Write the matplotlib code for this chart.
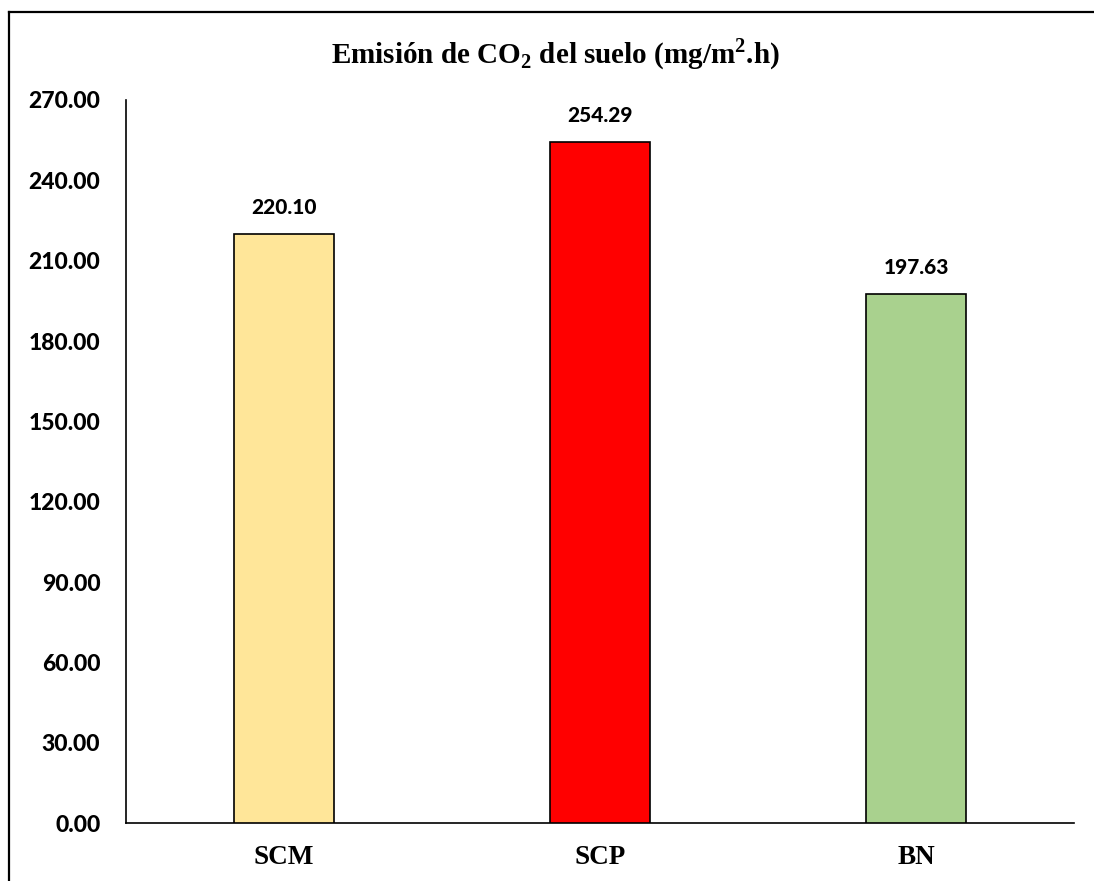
import matplotlib
matplotlib.use("Agg")
import matplotlib.pyplot as plt
from matplotlib.lines import Line2D

plt.rcParams["mathtext.fontset"] = "custom"
plt.rcParams["mathtext.rm"] = "Liberation Serif:bold"
plt.rcParams["mathtext.bf"] = "Liberation Serif:bold"

categories = ["SCM", "SCP", "BN"]
values = [220.10, 254.29, 197.63]
colors = ["#FFE699", "#FF0000", "#A9D18E"]
yticks = [0, 30, 60, 90, 120, 150, 180, 210, 240, 270]

fig = plt.figure(figsize=(10.94, 8.81), dpi=100)
ax = fig.add_axes([0.1152, 0.0658, 0.8665, 0.8207])

x = list(range(len(categories)))
ax.bar(x, values, width=0.316, color=colors, edgecolor="black", linewidth=1.2, zorder=3)

ax.set_xlim(-0.5, len(categories) - 0.5)
ax.set_ylim(0, 270)
ax.set_yticks(yticks)
ax.set_yticklabels([f"{v:.2f}" for v in yticks], fontfamily="Lato", fontweight=900, fontsize=16.5)
ax.set_xticks(x)
ax.set_xticklabels(categories, fontfamily="Liberation Serif", fontweight="bold", fontsize=19.5)
ax.tick_params(axis="y", length=0, pad=18.5)
ax.tick_params(axis="x", length=0, pad=16)

for side in ("top", "right"):
    ax.spines[side].set_visible(False)
for side in ("left", "bottom"):
    ax.spines[side].set_linewidth(1.2)
    ax.spines[side].set_color("black")

for xi, v in zip(x, values):
    ax.annotate(f"{v:.2f}", (xi, v), xytext=(0, 12), textcoords="offset points",
                ha="center", va="bottom", fontfamily="Lato", fontweight=900, fontsize=15)

fig.text(0.508, 0.938, r"Emisión de CO$_\mathbf{2}$ del suelo (mg/m$^\mathbf{2}$.h)",
         ha="center", va="center", fontfamily="Liberation Serif", fontweight="bold", fontsize=21)

# chart area border (top and left edges)
bx = 8.5 / 1094
by = 1 - 11.5 / 881
fig.lines.append(Line2D([bx, 1.0], [by, by], transform=fig.transFigure,
                        color="black", linewidth=1.6))
fig.lines.append(Line2D([bx, bx], [0.0, by], transform=fig.transFigure,
                        color="black", linewidth=1.6, solid_capstyle="projecting"))

fig.savefig("out.png", dpi=100)
